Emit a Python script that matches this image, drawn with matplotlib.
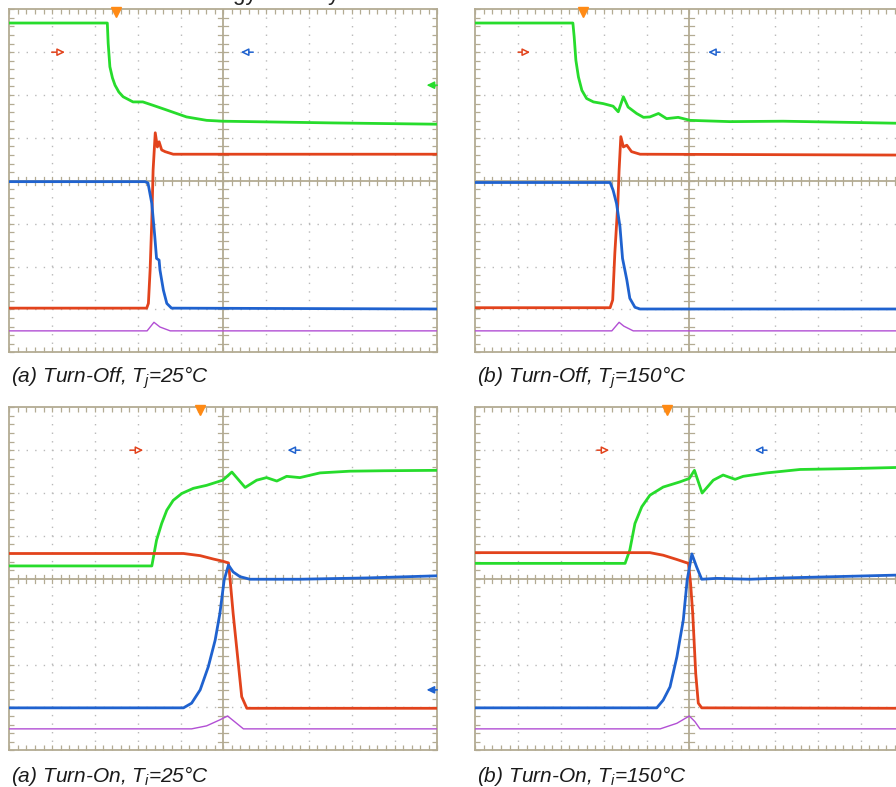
import matplotlib
matplotlib.use('Agg')
from matplotlib import pyplot as plt
import numpy as np

# scope captures, all in screen divisions (x: 0..10, y: 0..8)
# (a) turn-off, Tj=25C
off25_vce_t = [0, 2.29, 2.31, 2.35, 2.41, 2.47, 2.56, 2.66, 2.89, 3.12, 3.36, 3.68, 4.14, 4.61, 4.99, 7.56, 10]
off25_vce_v = [7.68, 7.68, 7.21, 6.66, 6.40, 6.23, 6.07, 5.96, 5.84, 5.84, 5.76, 5.65, 5.49, 5.41, 5.39, 5.35, 5.32]
off25_vge_t = [0, 3.21, 3.25, 3.29, 3.33, 3.36, 3.41, 3.46, 3.50, 3.56, 3.64, 3.83, 10]
off25_vge_v = [1.03, 1.03, 1.14, 1.92, 3.08, 4.25, 5.12, 4.79, 4.91, 4.72, 4.68, 4.62, 4.62]
off25_ic_t = [0, 3.17, 3.24, 3.33, 3.40, 3.44, 3.50, 3.52, 3.60, 3.68, 3.79, 10]
off25_ic_v = [3.98, 3.98, 3.95, 3.47, 2.69, 2.19, 2.15, 1.92, 1.45, 1.14, 1.03, 1.01]
off25_p_t = [0, 3.22, 3.38, 3.52, 3.76, 10]
off25_p_v = [0.50, 0.50, 0.70, 0.59, 0.50, 0.50]

# (b) turn-off, Tj=150C
off150_vce_t = [0, 2.28, 2.31, 2.35, 2.41, 2.49, 2.60, 2.76, 2.99, 3.22, 3.34, 3.46, 3.57, 3.77, 3.93,
                4.08, 4.28, 4.47, 4.74, 5.02, 5.95, 7.19, 10]
off150_vce_v = [7.68, 7.68, 7.36, 6.81, 6.42, 6.11, 5.92, 5.84, 5.80, 5.74, 5.61, 5.96, 5.72, 5.57, 5.48,
                5.49, 5.57, 5.45, 5.48, 5.41, 5.38, 5.39, 5.34]
off150_vge_t = [0, 3.15, 3.21, 3.26, 3.33, 3.36, 3.40, 3.46, 3.54, 3.65, 3.85, 10]
off150_vge_v = [1.04, 1.04, 1.22, 2.31, 3.47, 4.25, 5.03, 4.79, 4.83, 4.68, 4.62, 4.60]
off150_ic_t = [0, 3.15, 3.22, 3.30, 3.38, 3.44, 3.54, 3.61, 3.73, 3.85, 10]
off150_ic_v = [3.96, 3.96, 3.78, 3.47, 2.93, 2.19, 1.69, 1.26, 1.05, 1.01, 1.01]
off150_p_t = [0, 3.19, 3.36, 3.47, 3.69, 10]
off150_p_v = [0.50, 0.50, 0.70, 0.61, 0.50, 0.50]

# (a) turn-on, Tj=25C
on25_vce_t = [0, 3.33, 3.44, 3.56, 3.68, 3.83, 4.03, 4.30, 4.61, 4.99, 5.20, 5.51, 5.78, 6.01, 6.25,
              6.48, 6.79, 7.26, 7.96, 8.73, 10]
on25_vce_v = [4.30, 4.30, 4.90, 5.29, 5.60, 5.83, 5.99, 6.11, 6.18, 6.30, 6.49, 6.13, 6.30, 6.36, 6.28,
              6.39, 6.36, 6.47, 6.51, 6.52, 6.53]
on25_vge_t = [0, 4.07, 4.46, 4.77, 4.99, 5.12, 5.16, 5.23, 5.35, 5.43, 5.55, 10]
on25_vge_v = [4.59, 4.59, 4.54, 4.46, 4.41, 4.37, 3.97, 3.19, 2.03, 1.25, 0.98, 0.98]
on25_ic_t = [0, 4.07, 4.26, 4.46, 4.65, 4.81, 4.92, 5.02, 5.12, 5.23, 5.39, 5.62, 6.79, 8.35, 10]
on25_ic_v = [0.99, 0.99, 1.10, 1.41, 1.95, 2.57, 3.19, 3.97, 4.32, 4.16, 4.05, 3.99, 3.99, 4.02, 4.07]
on25_p_t = [0, 4.26, 4.61, 4.92, 5.10, 5.31, 5.47, 10]
on25_p_v = [0.50, 0.50, 0.57, 0.71, 0.80, 0.63, 0.50, 0.50]

# (b) turn-on, Tj=150C
on150_vce_t = [0, 3.50, 3.61, 3.73, 3.89, 4.08, 4.39, 4.78, 5.00, 5.12, 5.30, 5.56, 5.79, 6.07, 6.26,
               6.81, 7.59, 8.75, 10]
on150_vce_v = [4.36, 4.36, 4.67, 5.29, 5.68, 5.95, 6.14, 6.26, 6.34, 6.53, 6.00, 6.30, 6.42, 6.32, 6.39,
               6.47, 6.55, 6.57, 6.60]
on150_vge_t = [0, 4.08, 4.39, 4.71, 4.98, 5.03, 5.08, 5.15, 5.21, 5.29, 10]
on150_vge_v = [4.61, 4.61, 4.55, 4.45, 4.36, 3.89, 3.19, 1.79, 1.10, 0.99, 0.98]
on150_ic_t = [0, 4.24, 4.39, 4.55, 4.71, 4.86, 4.95, 5.06, 5.17, 5.29, 5.64, 6.42, 7.20, 10]
on150_ic_v = [0.99, 0.99, 1.17, 1.48, 2.18, 3.04, 3.97, 4.58, 4.28, 3.99, 4.01, 3.99, 4.02, 4.09]
on150_p_t = [0, 4.32, 4.71, 5.00, 5.13, 5.25, 10]
on150_p_v = [0.50, 0.50, 0.63, 0.80, 0.67, 0.50, 0.50]

# trigger position and channel reference arrows (tail x, head x, y, channel, open head)
trig_x = [2.49, 2.51, 4.46, 4.48]
off25_marks = [(0.99, 1.30, 7.0, 'vge', True), (5.70, 5.41, 7.0, 'ic', True), (10.0, 9.75, 6.23, 'vce', False)]
off150_marks = [(1.00, 1.28, 7.0, 'vge', True), (5.72, 5.44, 7.0, 'ic', True), (10.2, 9.85, 6.23, 'vce', False)]
on25_marks = [(2.82, 3.13, 7.0, 'vge', True), (6.79, 6.50, 7.0, 'ic', True), (10.0, 9.75, 1.41, 'ic', False)]
on150_marks = [(2.84, 3.13, 7.0, 'vge', True), (6.81, 6.53, 7.0, 'ic', True), (10.2, 9.85, 1.41, 'ic', False)]

captions = ['(a) Turn-Off, $T_j$=25°C', '(b) Turn-Off, $T_j$=150°C',
            '(a) Turn-On, $T_i$=25°C', '(b) Turn-On, $T_i$=150°C']

COLORS = {'vce': '#27dc2c', 'vge': '#e2431c', 'ic': '#1f62cf', 'p': '#b24fd4'}
FRAME = '#b3ab93'
DOT = '#b9b9b9'

plt.rcParams['font.family'] = 'Liberation Sans'
plt.rcParams['mathtext.fontset'] = 'custom'
plt.rcParams['mathtext.rm'] = 'Liberation Sans:italic'
plt.rcParams['mathtext.it'] = 'Liberation Sans:italic'

W, H = 896., 787.


def draw_scope(ax, traces, marks, trig):
  ax.set_xlim(0, 10)
  ax.set_ylim(0, 8)
  for s in ax.spines.values():
    s.set_color(FRAME)
    s.set_linewidth(1.3)
  ax.set_xticks(np.arange(0, 10.01, 0.2))
  ax.set_yticks(np.arange(0, 8.01, 0.2))
  ax.tick_params(direction='in', length=3.5, width=0.9, color=FRAME, top=True, right=True,
                 labelbottom=False, labelleft=False)

  # dotted graticule
  for x in range(1, 10):
    if x != 5:
      ax.axvline(x, color=DOT, lw=1.0, ls=(0, (1, 5.16)), zorder=1)
  for y in range(1, 8):
    if y != 4:
      ax.axhline(y, color=DOT, lw=1.0, ls=(0, (1, 5.16)), zorder=1)
  # center cross with small ticks
  ax.axvline(5, color=FRAME, lw=1.3, zorder=1)
  ax.axhline(4, color=FRAME, lw=1.3, zorder=1)
  for x in np.arange(0.2, 10, 0.2):
    ax.plot([x, x], [3.91, 4.09], color=FRAME, lw=0.9, zorder=1)
  for y in np.arange(0.2, 8, 0.2):
    ax.plot([4.885, 5.115], [y, y], color=FRAME, lw=0.9, zorder=1)

  for key, t, v in traces:
    lw = 1.0 if key == 'p' else 2.0
    ax.plot(t, v, color=COLORS[key], lw=lw, zorder=3, solid_joinstyle='round')

  for x0, x1, y, key, hollow in marks:
    ax.annotate('', xy=(x1, y), xytext=(x0, y), annotation_clip=False,
                arrowprops=dict(arrowstyle='-|>,head_length=0.45,head_width=0.22',
                                fc='white' if hollow else COLORS[key], ec=COLORS[key], lw=1.1,
                                shrinkA=0, shrinkB=0))

  ax.plot([trig], [7.93], marker='v', ms=7, color='#ff8a14', clip_on=False, zorder=5)


fig = plt.figure(figsize=(W / 100, H / 100), dpi=100)

panels = [
  (9.3, 9.3, [('vce', off25_vce_t, off25_vce_v), ('vge', off25_vge_t, off25_vge_v),
              ('ic', off25_ic_t, off25_ic_v), ('p', off25_p_t, off25_p_v)], off25_marks),
  (475.3, 9.3, [('vce', off150_vce_t, off150_vce_v), ('vge', off150_vge_t, off150_vge_v),
                ('ic', off150_ic_t, off150_ic_v), ('p', off150_p_t, off150_p_v)], off150_marks),
  (9.3, 407.3, [('vce', on25_vce_t, on25_vce_v), ('vge', on25_vge_t, on25_vge_v),
                ('ic', on25_ic_t, on25_ic_v), ('p', on25_p_t, on25_p_v)], on25_marks),
  (475.3, 407.3, [('vce', on150_vce_t, on150_vce_v), ('vge', on150_vge_t, on150_vge_v),
                  ('ic', on150_ic_t, on150_ic_v), ('p', on150_p_t, on150_p_v)], on150_marks),
]

cap_base = [382.5, 382.5, 781.5, 781.5]
for i, (left, top, traces, marks) in enumerate(panels):
  ax = fig.add_axes([left / W, (H - top - 343) / H, 428 / W, 343 / H])
  draw_scope(ax, traces, marks, trig_x[i])
  fig.text((left + 1.5) / W, (H - cap_base[i]) / H, captions[i], fontsize=15, style='italic',
           color='#1a1a1a', va='baseline', ha='left')

# figure title sits just above the crop, only its descenders show (as in the source)
fig.text(186 / W, 1.0, 'Energy Loss by', fontsize=16, va='baseline', ha='left', color='#222222')

fig.savefig('out.png', dpi=100)
